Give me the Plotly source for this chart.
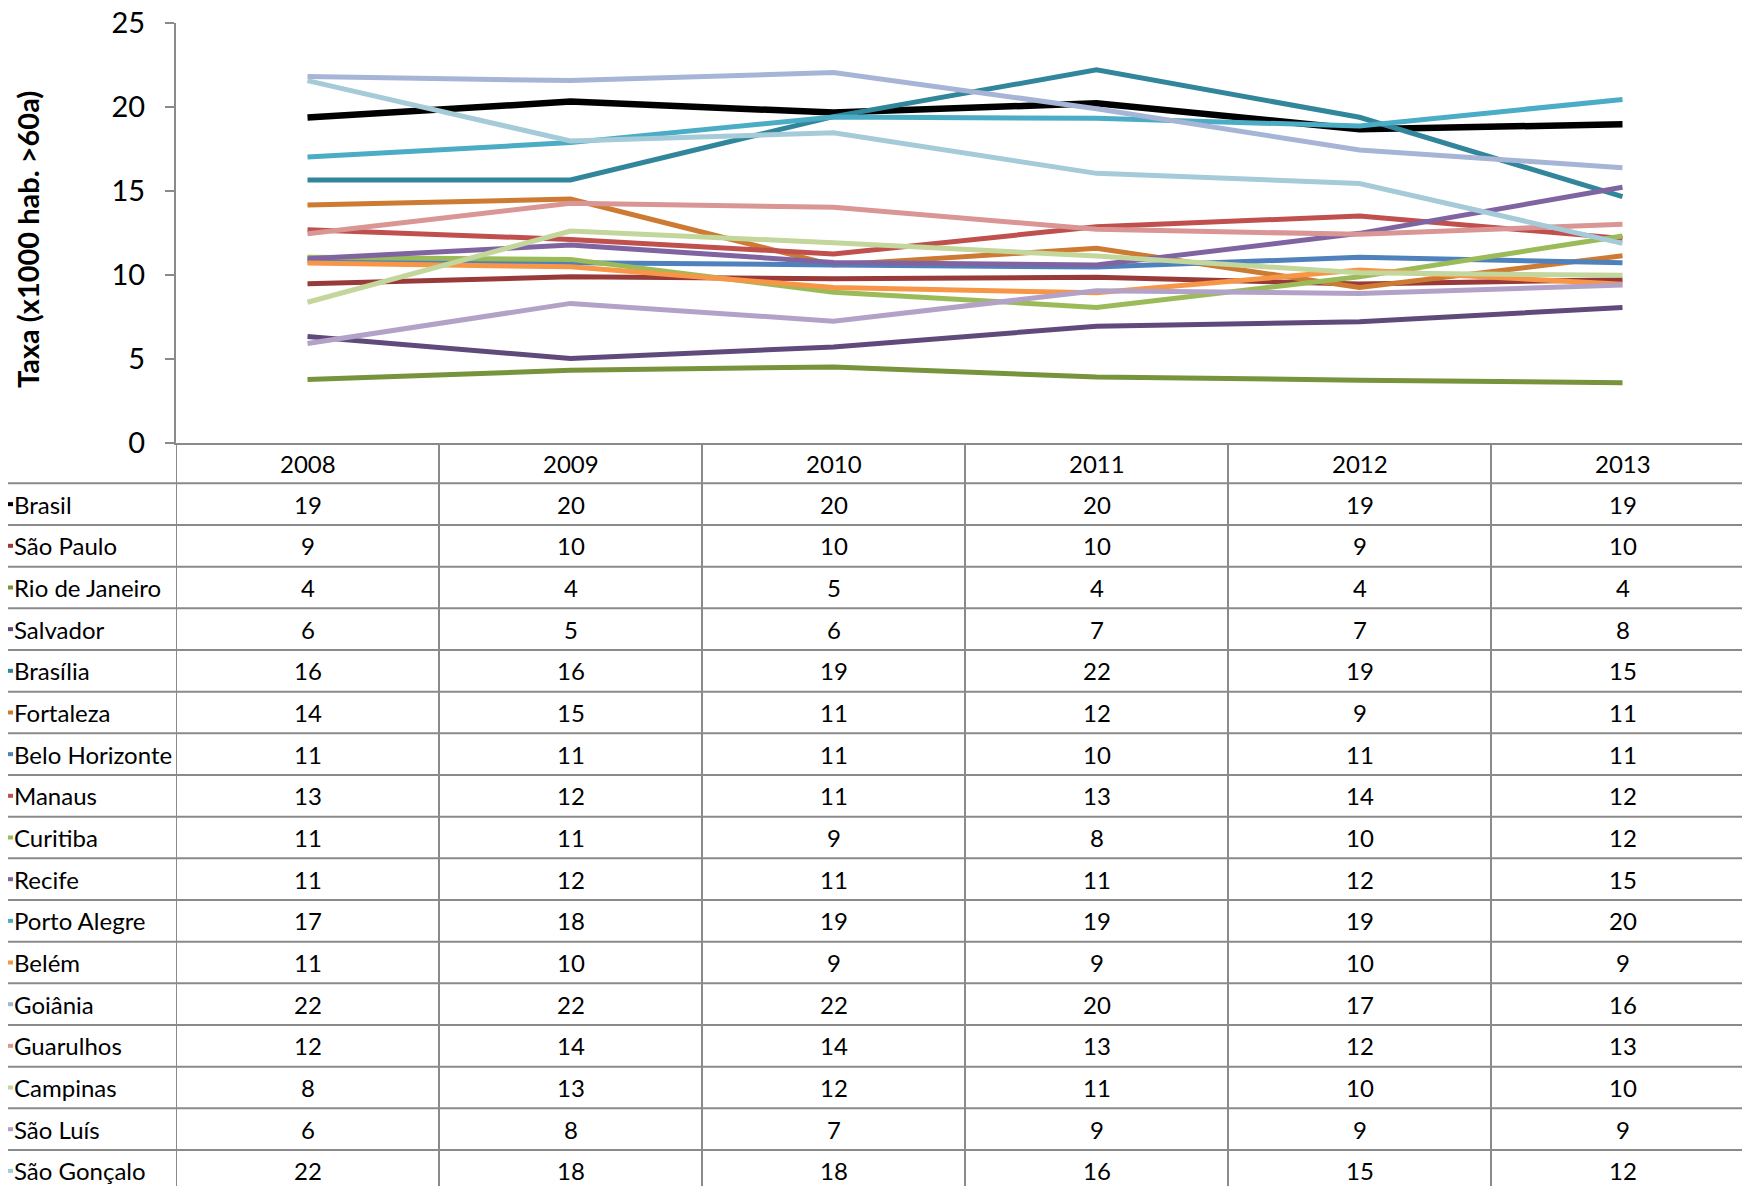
import math
import plotly.graph_objects as go

# ---------------- data ----------------
years = ["2008", "2009", "2010", "2011", "2012", "2013"]

brasil = [19.37, 20.32, 19.67, 20.22, 18.68, 18.97]
sao_paulo = [9.48, 9.89, 9.77, 9.86, 9.46, 9.72]
rio_de_janeiro = [3.78, 4.33, 4.53, 3.93, 3.74, 3.58]
salvador = [6.34, 5.03, 5.72, 6.95, 7.21, 8.07]
brasilia = [15.66, 15.66, 19.43, 22.21, 19.39, 14.66]
fortaleza = [14.17, 14.52, 10.59, 11.59, 9.26, 11.14]
belo_horizonte = [10.85, 10.75, 10.60, 10.47, 11.05, 10.73]
manaus = [12.69, 12.12, 11.25, 12.87, 13.51, 12.18]
curitiba = [11.05, 10.93, 8.98, 8.07, 9.89, 12.32]
recife = [10.97, 11.78, 10.75, 10.59, 12.48, 15.22]
porto_alegre = [17.03, 17.88, 19.40, 19.33, 18.87, 20.45]
belem = [10.71, 10.49, 9.26, 8.94, 10.29, 9.45]
goiania = [21.81, 21.57, 22.05, 19.90, 17.44, 16.39]
guarulhos = [12.45, 14.27, 14.03, 12.72, 12.42, 13.02]
campinas = [8.38, 12.62, 11.92, 11.13, 10.13, 9.98]
sao_luis = [5.92, 8.31, 7.25, 9.06, 8.90, 9.40]
sao_goncalo = [21.57, 17.98, 18.47, 16.05, 15.45, 11.88]

series_names = ["Brasil", "São Paulo", "Rio de Janeiro", "Salvador", "Brasília",
                "Fortaleza", "Belo Horizonte", "Manaus", "Curitiba", "Recife",
                "Porto Alegre", "Belém", "Goiânia", "Guarulhos", "Campinas",
                "São Luís", "São Gonçalo"]
series_values = [brasil, sao_paulo, rio_de_janeiro, salvador, brasilia, fortaleza,
                 belo_horizonte, manaus, curitiba, recife, porto_alegre, belem,
                 goiania, guarulhos, campinas, sao_luis, sao_goncalo]
series_colors = ["#000000", "#983a39", "#77933c", "#604a7b", "#31869b",
                 "#cd7a32", "#4f81bd", "#c0504d", "#9bbb59", "#8064a2",
                 "#4bacc6", "#f79646", "#a6b5d6", "#d99694", "#c3d69b",
                 "#b3a2c7", "#a5cad8"]

y_title = "Taxa (x1000 hab. >60a)"

# ---------------- layout geometry ----------------
# the page body has an 8px margin: work in page pixels, convert to figure pixels
OFF = 8
W, H = 1750, 1186
ML = 176 - OFF
MT = 23 - OFF
MR = 4
PLOT_BOTTOM = 443 - OFF
MB = H - PLOT_BOTTOM
PLOT_H = PLOT_BOTTOM - MT
PLOT_W = W - ML - MR


def py(p_page):
    """page pixel y -> paper y"""
    return (PLOT_BOTTOM - (p_page - OFF)) / PLOT_H


def px_fig(p_fig):
    """figure pixel x -> paper x"""
    return (p_fig - ML) / PLOT_W


HEADER_TOP = 443
HEADER_BOTTOM = 483.3
ROW_H = 41.67
GRID = "#8a8a8a"
FONT = "Lato, 'Open Sans', sans-serif"
TXT = 24

fig = go.Figure()
for name, vals, col in zip(series_names, series_values, series_colors):
    fig.add_trace(go.Scatter(
        x=years, y=vals, mode="lines", name=name,
        line=dict(color=col, width=6.5 if name == "Brasil" else 5),
        hoverinfo="x+y+name",
    ))

shapes = []
annotations = []

# table vertical lines (column boundaries) in data coords
for i in range(len(years) + 1):
    shapes.append(dict(type="line", xref="x", yref="paper",
                       x0=i - 0.5, x1=i - 0.5, y0=0, y1=py(H + 20),
                       line=dict(color=GRID, width=2)))
# header bottom + row bottoms
n_rows = len(series_names)
for k in range(n_rows + 1):
    yy = HEADER_BOTTOM + ROW_H * k
    shapes.append(dict(type="line", xref="paper", yref="paper",
                       x0=px_fig(0), x1=px_fig(W + 10), y0=py(yy), y1=py(yy),
                       line=dict(color=GRID, width=2)))

# header (years)
for i, yr in enumerate(years):
    annotations.append(dict(x=i, y=py((HEADER_TOP + HEADER_BOTTOM) / 2),
                            xref="x", yref="paper", text=yr, showarrow=False,
                            xanchor="center", yanchor="middle",
                            font=dict(family=FONT, size=TXT, color="#000000")))

# rows
for k, (name, vals, col) in enumerate(zip(series_names, series_values, series_colors)):
    yc = HEADER_BOTTOM + ROW_H * (k + 0.5)
    # legend key
    shapes.append(dict(type="line", xref="paper", yref="paper",
                       x0=px_fig(0), x1=px_fig(5), y0=py(yc), y1=py(yc),
                       line=dict(color=col, width=4)))
    annotations.append(dict(x=px_fig(4), y=py(yc), xref="paper", yref="paper",
                            text=name, showarrow=False, xanchor="left",
                            yanchor="middle",
                            font=dict(family=FONT, size=TXT, color="#000000")))
    for i, v in enumerate(vals):
        annotations.append(dict(x=i, y=py(yc), xref="x", yref="paper",
                                text=str(int(math.floor(v + 0.5))), showarrow=False,
                                xanchor="center", yanchor="middle",
                                font=dict(family=FONT, size=TXT, color="#000000")))

# y-axis title
annotations.append(dict(x=px_fig(28 - OFF), y=py(240), xref="paper", yref="paper",
                        text="<b>" + y_title + "</b>", showarrow=False,
                        textangle=-90, xanchor="center", yanchor="middle",
                        font=dict(family=FONT, size=29, color="#000000")))

fig.update_layout(
    width=W, height=H,
    margin=dict(l=ML, r=MR, t=MT, b=MB, pad=0, autoexpand=False),
    paper_bgcolor="white", plot_bgcolor="white",
    showlegend=False,
    shapes=shapes, annotations=annotations,
    font=dict(family=FONT, color="#000000"),
    xaxis=dict(type="category", range=[-0.5, 5.5], showticklabels=False,
               showgrid=False, zeroline=False, showline=True, automargin=False,
               linecolor=GRID, linewidth=2, ticks=""),
    yaxis=dict(range=[0, 25], dtick=5, tick0=0, showgrid=False, zeroline=False,
               showline=True, linecolor=GRID, linewidth=2, automargin=False,
               ticks="outside", ticklen=9, tickwidth=2, tickcolor=GRID,
               ticklabelstandoff=14, ticklabeloverflow="allow",
               tickfont=dict(family=FONT, size=29, color="#000000")),
)

fig.write_html("out.html")
